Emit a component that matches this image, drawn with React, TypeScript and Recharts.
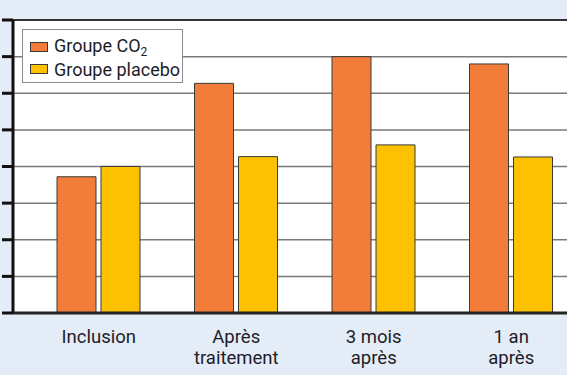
import React from "react";
import { BarChart, Bar, XAxis, YAxis, CartesianGrid, ReferenceLine } from "recharts";

const categories = ["Inclusion", "Après\ntraitement", "3 mois\naprès", "1 an\naprès"];
const co2Values = [3.72, 6.27, 7.0, 6.8];
const placeboValues = [4.0, 4.27, 4.59, 4.26];
const yTicks = [0, 1, 2, 3, 4, 5, 6, 7, 8];

const series = [
  { key: "co2", name: "Groupe CO", sub: "2", color: "#F27C39" },
  { key: "placebo", name: "Groupe placebo", sub: "", color: "#FCC100" },
];

const data = categories.map((c, i) => ({ cat: c, co2: co2Values[i], placebo: placeboValues[i] }));

const FONT = "Roboto, 'Noto Sans', sans-serif";

const XTick = (props: any) => {
  const { x, y, payload } = props;
  const lines = String(payload.value).split("\n");
  return (
    <g>
      {lines.map((l: string, i: number) => (
        <text key={i} x={x} y={y + 28 + i * 21} textAnchor="middle" fontFamily={FONT} fontSize={18.5} fill="#1d1d28">
          {l}
        </text>
      ))}
    </g>
  );
};

const EmptyTick = () => <g />;

export default function App() {
  return (
    <div style={{ position: "absolute", left: 0, top: 0, width: 567, height: 375, overflow: "hidden", background: "#E4ECF7" }}>
      <BarChart width={580} height={375} data={data} margin={{ top: 20, right: 0, bottom: 0, left: 0 }} barSize={39} barGap={5}>
        <CartesianGrid horizontal vertical={false} stroke="#7a7a7a" strokeWidth={1.5} fill="#ffffff" />
        <XAxis
          dataKey="cat"
          height={62}
          tickLine={false}
          tickSize={0}
          axisLine={{ stroke: "#222", strokeWidth: 3 }}
          padding={{ left: 17, right: 0 }}
          tick={<XTick />}
          interval={0}
        />
        <YAxis
          width={13}
          domain={[0, 8]}
          ticks={yTicks}
          interval={0}
          tick={<EmptyTick />}
          tickSize={11}
          tickLine={{ stroke: "#111", strokeWidth: 3 }}
          axisLine={{ stroke: "#111", strokeWidth: 3 }}
        />
        <ReferenceLine y={8} stroke="#333" strokeWidth={2} ifOverflow="extendDomain" />
        {series.map((s) => (
          <Bar key={s.key} dataKey={s.key} fill={s.color} stroke="#3a3a3a" strokeWidth={1} isAnimationActive={false} />
        ))}
      </BarChart>
      <div
        style={{
          position: "absolute",
          left: 22,
          top: 29,
          width: 161,
          height: 54,
          boxSizing: "border-box",
          background: "#fff",
          border: "1.5px solid #8a8a8a",
          fontFamily: FONT,
          fontSize: 18,
          color: "#1d1d28",
        }}
      >
        {series.map((s, i) => (
          <div key={s.key} style={{ position: "absolute", left: 7, top: 6 + i * 22, height: 22, display: "flex", alignItems: "center", whiteSpace: "nowrap" }}>
            <span style={{ display: "inline-block", width: 18, height: 10, background: s.color, border: "1px solid #3a3a3a", boxSizing: "border-box", marginRight: 6 }} />
            <span>
              {s.name}
              {s.sub ? <sub style={{ fontSize: 12, verticalAlign: "-4px" }}>{s.sub}</sub> : null}
            </span>
          </div>
        ))}
      </div>
    </div>
  );
}
